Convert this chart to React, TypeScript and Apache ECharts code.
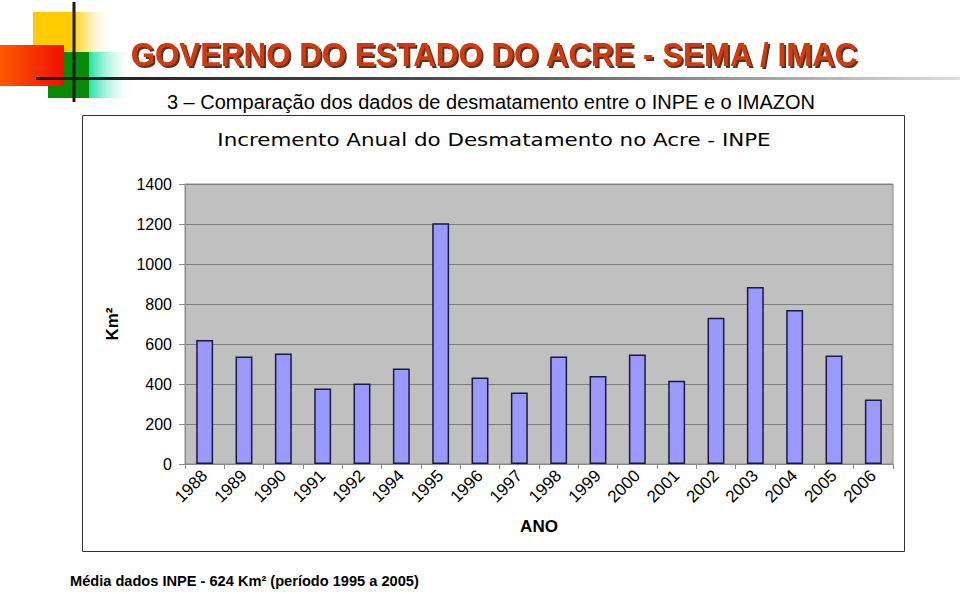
import React, { useEffect, useRef } from "react";
import * as echarts from "echarts";

const years = ["1988","1989","1990","1991","1992","1994","1995","1996","1997","1998","1999","2000","2001","2002","2003","2004","2005","2006"];
const values = [620, 538, 552, 378, 402, 478, 1204, 432, 358, 538, 440, 548, 416, 731, 885, 770, 543, 323];
const yTicks = { min: 0, max: 1400, interval: 200 };

const headerTitle = "GOVERNO DO ESTADO DO ACRE - SEMA / IMAC";
const subTitle = "3 \u2013 Compara\u00e7\u00e3o dos dados de desmatamento entre o INPE e o IMAZON";
const chartTitle = "Incremento Anual do Desmatamento no Acre - INPE";
const footer = "M\u00e9dia dados INPE - 624 Km\u00b2 (per\u00edodo 1995 a 2005)";

export default function App() {
  const ref = useRef<HTMLDivElement>(null);
  useEffect(() => {
    if (!ref.current) return;
    const chart = echarts.init(ref.current, null, { renderer: "svg" });
    const lin = (stops: [number, string][]) =>
      new echarts.graphic.LinearGradient(0, 0, 1, 0, stops.map(([offset, color]) => ({ offset, color })));
    chart.setOption({
      animation: false,
      backgroundColor: "#ffffff",
      grid: {
        left: 185, right: 67, top: 184, bottom: 130,
        show: true, backgroundColor: "#C0C0C0", borderColor: "#8a8a8a", borderWidth: 1,
      },
      xAxis: {
        type: "category",
        data: years,
        name: "ANO",
        nameLocation: "middle",
        nameGap: 54,
        nameTextStyle: { fontFamily: "Liberation Sans", fontWeight: "bold", fontSize: 17, color: "#000" },
        axisLine: { show: true, lineStyle: { color: "#8a8a8a", width: 1 } },
        axisTick: { show: true, alignWithLabel: false, length: 5, lineStyle: { color: "#8a8a8a" } },
        axisLabel: { rotate: 45, fontFamily: "Liberation Sans", fontSize: 17, color: "#000", margin: 9 },
      },
      yAxis: {
        type: "value",
        min: yTicks.min, max: yTicks.max, interval: yTicks.interval,
        name: "Km\u00b2",
        nameLocation: "middle",
        nameRotate: 90,
        nameGap: 64,
        nameTextStyle: { fontFamily: "Liberation Sans", fontWeight: "bold", fontSize: 17, color: "#000" },
        axisLine: { show: true, lineStyle: { color: "#8a8a8a", width: 1 } },
        axisTick: { show: true, length: 6, lineStyle: { color: "#8a8a8a" } },
        axisLabel: { fontFamily: "Liberation Sans", fontSize: 16, color: "#000", margin: 13, formatter: (v: number) => String(v) },
        splitLine: { show: true, lineStyle: { color: "#808080", width: 1 } },
      },
      series: [
        {
          type: "bar",
          data: values,
          barWidth: "43%",
          itemStyle: { color: "#9999FF", borderColor: "#1a1a40", borderWidth: 1.5 },
        },
      ],
      graphic: [
        { type: "rect", shape: { x: 33, y: 12, width: 80, height: 40 }, style: { fill: lin([[0, "#FFCC00"], [0.5, "#FFCC00"], [1, "rgba(255,255,255,0)"]]) }, z: 1 },
        { type: "rect", shape: { x: 48, y: 52, width: 41, height: 46 }, style: { fill: "#078A07" }, z: 1 },
        { type: "rect", shape: { x: 89, y: 52, width: 45, height: 46 }, style: { fill: lin([[0, "#20E0A8"], [1, "rgba(255,255,255,0)"]]) }, z: 1 },
        { type: "rect", shape: { x: 0, y: 45, width: 64, height: 41 }, style: { fill: lin([[0, "#FF5A00"], [1, "#EE1000"]]) }, z: 2 },
        { type: "rect", shape: { x: 36, y: 77, width: 924, height: 3 }, style: { fill: lin([[0, "#1a1a1a"], [0.5, "#555555"], [1, "#dddddd"]]) }, z: 3 },
        { type: "rect", shape: { x: 72.5, y: 2, width: 3, height: 100 }, style: { fill: "#1a1a1a" }, z: 3 },
        {
          type: "text", x: 494, y: 54, z: 4, scaleX: 0.92,
          style: {
            text: headerTitle, fontFamily: "Liberation Sans", fontWeight: "bold", fontSize: 34,
            fill: "#D03A0A", align: "center", verticalAlign: "middle",
            textShadowColor: "rgba(60,10,0,0.85)", textShadowOffsetX: 2, textShadowOffsetY: 2, textShadowBlur: 1,
          },
        },
        {
          type: "text", x: 491, y: 102, z: 4,
          style: { text: subTitle, fontFamily: "Liberation Sans", fontSize: 20, fill: "#000", align: "center", verticalAlign: "middle" },
        },
        {
          type: "rect", z: 0, silent: true,
          shape: { x: 82.5, y: 115.5, width: 822, height: 436 },
          style: { fill: "rgba(0,0,0,0)", stroke: "#333333", lineWidth: 1 },
        },
        {
          type: "text", x: 494, y: 140, z: 4, scaleX: 1.19,
          style: { text: chartTitle, fontFamily: "DejaVu Sans", fontSize: 18, fill: "#000", align: "center", verticalAlign: "middle" },
        },
        {
          type: "text", x: 70, y: 581, z: 4,
          style: { text: footer, fontFamily: "Liberation Sans", fontWeight: "bold", fontSize: 14.6, fill: "#000", align: "left", verticalAlign: "middle" },
        },
      ],
    });
    return () => chart.dispose();
  }, []);
  return <div ref={ref} style={{ position: "fixed", left: 0, top: 0, width: 960, height: 594 }} />;
}
